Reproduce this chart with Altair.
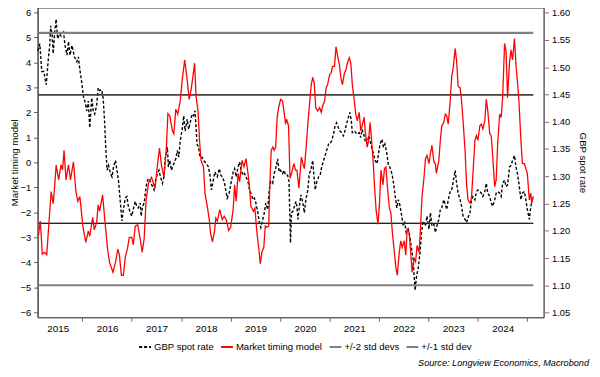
import altair as alt
import pandas as pd

# ---- Market timing model (left axis), decimal years ----
model_year = [2015.11, 2015.15, 2015.19, 2015.24, 2015.28, 2015.32, 2015.37, 2015.41, 2015.44, 2015.47,
              2015.52, 2015.57, 2015.60, 2015.63, 2015.67, 2015.72, 2015.76, 2015.82, 2015.87, 2015.91,
              2015.95, 2016.01, 2016.07, 2016.12, 2016.15, 2016.21, 2016.24, 2016.29, 2016.32, 2016.35,
              2016.41, 2016.45, 2016.51, 2016.55, 2016.62, 2016.67, 2016.72, 2016.75, 2016.79, 2016.83,
              2016.87, 2016.91, 2016.95, 2017.00, 2017.03, 2017.07, 2017.12, 2017.17, 2017.21, 2017.25,
              2017.29, 2017.34, 2017.40, 2017.47, 2017.52, 2017.56, 2017.60, 2017.65, 2017.70, 2017.73,
              2017.77, 2017.82, 2017.85, 2017.89, 2017.93, 2017.98, 2018.02, 2018.07, 2018.12, 2018.16,
              2018.20, 2018.24, 2018.27, 2018.30, 2018.34, 2018.37, 2018.40, 2018.45, 2018.48, 2018.53,
              2018.57, 2018.59, 2018.63, 2018.67, 2018.70, 2018.73, 2018.78, 2018.83, 2018.87, 2018.91,
              2018.96, 2019.00, 2019.05, 2019.08, 2019.11, 2019.15, 2019.18, 2019.23, 2019.27, 2019.31,
              2019.35, 2019.38, 2019.41, 2019.46, 2019.49, 2019.53, 2019.57, 2019.60, 2019.63, 2019.67,
              2019.70, 2019.73, 2019.77, 2019.79, 2019.82, 2019.85, 2019.88, 2019.91, 2019.94, 2019.97,
              2020.01, 2020.05, 2020.09, 2020.11, 2020.13, 2020.17, 2020.20, 2020.23, 2020.28, 2020.31,
              2020.34, 2020.38, 2020.43, 2020.46, 2020.49, 2020.53, 2020.56, 2020.60, 2020.63, 2020.66,
              2020.69, 2020.72, 2020.76, 2020.80, 2020.83, 2020.86, 2020.90, 2020.93, 2020.96, 2021.00,
              2021.03, 2021.06, 2021.10, 2021.13, 2021.16, 2021.20, 2021.23, 2021.26, 2021.30, 2021.33,
              2021.36, 2021.40, 2021.43, 2021.46, 2021.50, 2021.53, 2021.56, 2021.60, 2021.63, 2021.66,
              2021.70, 2021.72, 2021.76, 2021.79, 2021.82, 2021.84, 2021.88, 2021.91, 2021.94, 2021.98,
              2022.01, 2022.04, 2022.08, 2022.11, 2022.14, 2022.17, 2022.21, 2022.24, 2022.27, 2022.31,
              2022.34, 2022.37, 2022.41, 2022.44, 2022.47, 2022.51, 2022.54, 2022.57, 2022.61, 2022.64,
              2022.67, 2022.71, 2022.74, 2022.77, 2022.81, 2022.84, 2022.87, 2022.91, 2022.94, 2022.97,
              2023.01, 2023.04, 2023.07, 2023.11, 2023.14, 2023.16, 2023.21, 2023.24, 2023.27, 2023.31,
              2023.34, 2023.37, 2023.40, 2023.44, 2023.47, 2023.50, 2023.54, 2023.57, 2023.60, 2023.64,
              2023.67, 2023.70, 2023.74, 2023.77, 2023.80, 2023.84, 2023.87, 2023.90, 2023.94, 2023.97,
              2024.00, 2024.04, 2024.07, 2024.10, 2024.14, 2024.17, 2024.20, 2024.24, 2024.27, 2024.30,
              2024.34, 2024.37, 2024.40, 2024.44, 2024.47, 2024.50, 2024.54, 2024.57, 2024.60, 2024.64,
              2024.67, 2024.70, 2024.74, 2024.77, 2024.80, 2024.83, 2024.87, 2024.90, 2024.94, 2024.97,
              2025.00, 2025.04, 2025.07, 2025.09, 2025.12]
model_val = [-2.95, -2.35, -3.67, -3.60, -3.70, -2.55, -1.17, -1.65, -0.97, -0.11,
             -0.70, -0.10, -0.30, 0.48, -0.70, -0.10, -0.70, 0.02, -1.17, -1.56,
             -1.37, -2.55, -3.20, -2.75, -2.95, -2.20, -2.70, -2.40, -1.70, -1.95,
             -1.30, -2.20, -3.47, -4.00, -4.40, -4.00, -3.47, -3.72, -4.52, -4.52,
             -3.78, -3.47, -3.00, -3.00, -3.30, -2.55, -2.50, -3.06, -3.60, -3.06,
             -1.50, -0.80, -0.60, -1.05, -0.08, 0.57, -0.10, -0.60, 0.60, 1.95,
             1.86, 1.27, 1.14, 2.13, 1.93, 2.46, 3.31, 4.10, 3.31, 2.52,
             2.90, 3.50, 3.97, 2.65, 2.06, 0.88, 0.08, -0.18, -1.23, -1.80,
             -2.35, -2.80, -3.18, -2.80, -2.23, -2.35, -1.89, -2.29, -2.16, -2.29,
             -2.73, -2.60, -1.89, -0.90, -1.56, -0.44, -0.77, 0.08, -0.18, 0.15,
             -0.44, -0.97, -1.76, -1.96, -1.83, -2.80, -3.47, -4.06, -3.60, -3.40,
             -2.55, -2.60, -2.55, -0.97, 0.48, 0.61, 0.48, 0.61, 1.80, 2.19,
             2.52, 2.46, 1.86, 1.53, 1.73, 1.47, -0.64, -0.44, -0.05, -0.31,
             -0.31, -1.03, 0.21, -0.05, -0.25, 0.68, 1.53, 2.46, 3.11, 3.40,
             3.18, 2.19, 2.06, 2.19, 2.00, 2.26, 2.46, 2.98, 3.11, 3.50,
             3.57, 3.84, 3.84, 4.63, 4.30, 3.90, 3.37, 3.11, 3.57, 3.70,
             3.97, 4.19, 3.97, 3.11, 2.46, 1.93, 1.66, 2.00, 1.27, 1.47,
             1.80, 1.27, 0.61, 0.88, 1.60, 1.14, 0.08, -0.97, -1.89, -2.48,
             -1.63, -0.31, -0.90, -0.25, -0.18, -0.97, -1.83, -2.03, -2.80, -3.60,
             -4.20, -4.52, -3.60, -3.14, -3.40, -3.14, -3.72, -2.68, -2.80, -3.60,
             -4.40, -3.85, -3.98, -3.33, -3.60, -2.60, -1.37, -0.60, 0.15, 0.28,
             -0.05, 0.35, 0.68, 0.02, -0.05, -0.44, 0.08, 0.88, 1.47, 1.60,
             1.93, 1.86, 1.53, 2.46, 3.44, 3.77, 4.56, 4.04, 3.05, 2.98,
             2.46, 1.67, 0.48, -0.84, -1.50, -1.63, -1.43, -0.44, 0.88, 1.07,
             0.88, 1.47, 1.53, 1.34, 1.67, 2.52, 2.06, 1.14, 1.07, 0.21,
             -0.97, -0.70, 0.74, 1.93, 1.80, 2.59, 4.76, 4.43, 2.59, 4.04,
             4.50, 4.10, 4.96, 3.90, 3.24, 2.46, 0.88, -0.05, -0.05, -0.25,
             -0.44, -1.50, -1.23, -1.63, -1.37]

# ---- GBP spot rate (right axis), decimal years ----
gbp_year = [2015.10, 2015.14, 2015.18, 2015.22, 2015.27, 2015.31, 2015.34, 2015.36, 2015.39, 2015.41,
            2015.44, 2015.47, 2015.50, 2015.54, 2015.57, 2015.62, 2015.65, 2015.69, 2015.72, 2015.75,
            2015.79, 2015.84, 2015.89, 2015.92, 2015.95, 2015.99, 2016.02, 2016.05, 2016.09, 2016.12,
            2016.15, 2016.19, 2016.22, 2016.25, 2016.29, 2016.32, 2016.35, 2016.39, 2016.42, 2016.45,
            2016.47, 2016.50, 2016.53, 2016.57, 2016.60, 2016.63, 2016.67, 2016.70, 2016.73, 2016.77,
            2016.80, 2016.83, 2016.87, 2016.90, 2016.93, 2016.97, 2017.00, 2017.03, 2017.07, 2017.10,
            2017.13, 2017.17, 2017.19, 2017.22, 2017.25, 2017.29, 2017.32, 2017.35, 2017.39, 2017.42,
            2017.45, 2017.48, 2017.52, 2017.55, 2017.58, 2017.62, 2017.65, 2017.68, 2017.72, 2017.74,
            2017.77, 2017.80, 2017.85, 2017.89, 2017.92, 2017.95, 2017.98, 2018.02, 2018.05, 2018.08,
            2018.12, 2018.15, 2018.18, 2018.22, 2018.25, 2018.28, 2018.32, 2018.35, 2018.38, 2018.42,
            2018.45, 2018.48, 2018.51, 2018.55, 2018.58, 2018.61, 2018.65, 2018.68, 2018.73, 2018.77,
            2018.80, 2018.83, 2018.87, 2018.90, 2018.93, 2018.97, 2019.00, 2019.05, 2019.08, 2019.11,
            2019.15, 2019.18, 2019.21, 2019.25, 2019.28, 2019.31, 2019.35, 2019.38, 2019.41, 2019.45,
            2019.48, 2019.51, 2019.55, 2019.58, 2019.61, 2019.65, 2019.68, 2019.71, 2019.75, 2019.78,
            2019.81, 2019.85, 2019.88, 2019.91, 2019.95, 2019.98, 2020.01, 2020.05, 2020.08, 2020.11,
            2020.15, 2020.18, 2020.21, 2020.23, 2020.26, 2020.29, 2020.32, 2020.34, 2020.36, 2020.39,
            2020.42, 2020.46, 2020.49, 2020.52, 2020.56, 2020.59, 2020.62, 2020.66, 2020.68, 2020.71,
            2020.74, 2020.78, 2020.81, 2020.84, 2020.88, 2020.91, 2020.94, 2020.98, 2021.01, 2021.04,
            2021.08, 2021.11, 2021.14, 2021.18, 2021.21, 2021.24, 2021.28, 2021.31, 2021.34, 2021.38,
            2021.41, 2021.44, 2021.46, 2021.50, 2021.53, 2021.56, 2021.60, 2021.63, 2021.66, 2021.70,
            2021.72, 2021.76, 2021.79, 2021.82, 2021.86, 2021.89, 2021.92, 2021.96, 2021.99, 2022.02,
            2022.06, 2022.09, 2022.12, 2022.16, 2022.19, 2022.22, 2022.26, 2022.29, 2022.32, 2022.36,
            2022.39, 2022.42, 2022.46, 2022.49, 2022.52, 2022.55, 2022.59, 2022.62, 2022.65, 2022.69,
            2022.71, 2022.73, 2022.76, 2022.79, 2022.83, 2022.86, 2022.89, 2022.94, 2022.97, 2023.01,
            2023.04, 2023.07, 2023.11, 2023.14, 2023.17, 2023.21, 2023.24, 2023.27, 2023.31, 2023.34,
            2023.37, 2023.40, 2023.44, 2023.47, 2023.50, 2023.54, 2023.57, 2023.60, 2023.64, 2023.67,
            2023.70, 2023.74, 2023.77, 2023.80, 2023.84, 2023.87, 2023.90, 2023.94, 2023.97, 2024.00,
            2024.04, 2024.07, 2024.10, 2024.14, 2024.17, 2024.20, 2024.24, 2024.27, 2024.30, 2024.34,
            2024.37, 2024.40, 2024.44, 2024.47, 2024.50, 2024.54, 2024.57, 2024.60, 2024.64, 2024.67,
            2024.70, 2024.74, 2024.77, 2024.80, 2024.83, 2024.87, 2024.90, 2024.94, 2024.97, 2025.00,
            2025.04, 2025.07, 2025.10, 2025.12]
gbp_val = [1.530, 1.543, 1.492, 1.492, 1.468, 1.513, 1.540, 1.576, 1.558, 1.525,
           1.564, 1.588, 1.552, 1.561, 1.557, 1.564, 1.540, 1.522, 1.547, 1.522,
           1.540, 1.519, 1.510, 1.519, 1.495, 1.471, 1.447, 1.438, 1.420, 1.438,
           1.389, 1.444, 1.420, 1.414, 1.431, 1.462, 1.457, 1.459, 1.444, 1.401,
           1.359, 1.311, 1.320, 1.305, 1.299, 1.317, 1.329, 1.311, 1.293, 1.251,
           1.218, 1.239, 1.260, 1.263, 1.245, 1.233, 1.227, 1.239, 1.254, 1.245,
           1.242, 1.251, 1.227, 1.245, 1.251, 1.281, 1.293, 1.296, 1.287, 1.281,
           1.275, 1.293, 1.305, 1.311, 1.299, 1.287, 1.299, 1.335, 1.353, 1.317,
           1.329, 1.311, 1.323, 1.332, 1.347, 1.335, 1.365, 1.386, 1.411, 1.383,
           1.405, 1.386, 1.398, 1.414, 1.411, 1.420, 1.359, 1.353, 1.335, 1.335,
           1.329, 1.326, 1.323, 1.317, 1.302, 1.275, 1.293, 1.308, 1.299, 1.314,
           1.302, 1.299, 1.290, 1.275, 1.260, 1.269, 1.284, 1.308, 1.314, 1.299,
           1.317, 1.326, 1.311, 1.302, 1.305, 1.299, 1.290, 1.275, 1.269, 1.257,
           1.260, 1.251, 1.233, 1.215, 1.206, 1.221, 1.233, 1.251, 1.239, 1.275,
           1.290, 1.287, 1.305, 1.314, 1.332, 1.308, 1.311, 1.305, 1.311, 1.302,
           1.302, 1.290, 1.178, 1.233, 1.236, 1.245, 1.254, 1.245, 1.221, 1.245,
           1.266, 1.251, 1.233, 1.257, 1.275, 1.305, 1.311, 1.329, 1.305, 1.275,
           1.290, 1.299, 1.302, 1.317, 1.329, 1.338, 1.347, 1.359, 1.359, 1.365,
           1.377, 1.392, 1.398, 1.389, 1.383, 1.380, 1.374, 1.383, 1.395, 1.408,
           1.417, 1.402, 1.380, 1.383, 1.380, 1.377, 1.380, 1.371, 1.386, 1.374,
           1.365, 1.359, 1.374, 1.365, 1.350, 1.341, 1.329, 1.323, 1.341, 1.359,
           1.368, 1.353, 1.359, 1.341, 1.320, 1.317, 1.305, 1.290, 1.269, 1.242,
           1.257, 1.248, 1.227, 1.209, 1.215, 1.197, 1.203, 1.191, 1.173, 1.148,
           1.118, 1.091, 1.118, 1.130, 1.160, 1.197, 1.218, 1.209, 1.227, 1.203,
           1.233, 1.209, 1.212, 1.197, 1.209, 1.221, 1.239, 1.242, 1.257, 1.248,
           1.239, 1.257, 1.272, 1.275, 1.290, 1.311, 1.287, 1.269, 1.257, 1.245,
           1.227, 1.221, 1.215, 1.224, 1.233, 1.257, 1.263, 1.257, 1.272, 1.275,
           1.272, 1.269, 1.263, 1.272, 1.287, 1.269, 1.263, 1.251, 1.245, 1.257,
           1.269, 1.272, 1.269, 1.263, 1.287, 1.293, 1.281, 1.284, 1.317, 1.320,
           1.329, 1.338, 1.317, 1.305, 1.287, 1.257, 1.269, 1.272, 1.257, 1.239,
           1.221, 1.245, 1.257, 1.263]

# ---- standard deviation bands (left axis) ----
std_series = ["+/-2 std devs", "+/-2 std devs", "+/-1 std dev", "+/-1 std dev"]
std_vals = [5.18, -4.92, 2.70, -2.44]
band_start = model_year[0]
band_end = model_year[-1]

series_order = ["GBP spot rate", "Market timing model", "+/-2 std devs", "+/-1 std dev"]
series_colors = ["#000000", "#ff0000", "#808080", "#808080"]
series_dash = [[3, 2], [1, 0], [1, 0], [1, 0]]

year_ticks = list(range(2016, 2026))
left_ticks = list(range(-6, 7))
right_ticks = [round(1.05 + 0.05 * i, 2) for i in range(12)]

model_df = pd.DataFrame({"year": model_year, "value": model_val, "series": "Market timing model"})
gbp_df = pd.DataFrame({"year": gbp_year, "value": gbp_val, "series": "GBP spot rate"})
std_df = pd.DataFrame({"series": std_series, "value": std_vals,
                       "start": band_start, "end": band_end})
std1_df = std_df[std_df["series"] == "+/-1 std dev"]
std2_df = std_df[std_df["series"] == "+/-2 std devs"]

FONT = "Liberation Sans"

x_scale = alt.Scale(domain=[2015.095, 2025.33], nice=False, zero=False)
x_axis = alt.Axis(values=year_ticks, labelExpr="'' + (datum.value - 1)", labelOffset=-25,
                  tickSize=4, labelPadding=2, labelFontSize=10, labelColor="#000",
                  domainColor="#666", tickColor="#666", labelFlush=False,
                  labelOverlap=False, labelBound=False, grid=False, title=None)

left_scale = alt.Scale(domain=[-6.2, 6.2], nice=False, zero=False)
left_axis = alt.Axis(values=left_ticks, tickSize=4, labelPadding=3, labelFontSize=9.5,
                     labelColor="#000", domainColor="#555", tickColor="#555", grid=False,
                     title="Market timing model", titleFontSize=9.8, titleFontWeight="normal",
                     titleColor="#000", titlePadding=1)
right_scale = alt.Scale(domain=[1.0415, 1.6095], nice=False, zero=False)
right_axis = alt.Axis(orient="right", values=right_ticks, format=".2f", tickSize=5,
                      labelPadding=3, labelFontSize=9.5, labelColor="#000",
                      domainColor="#777", tickColor="#777", grid=False,
                      title="GBP spot rate", titleFontSize=9.8, titleFontWeight="normal",
                      titleColor="#000", titlePadding=8)

legend = alt.Legend(title=None, orient="none", direction="horizontal", legendX=102, legendY=337,
                    symbolType="stroke", symbolSize=144, symbolStrokeWidth=2,
                    labelFontSize=9.7, labelFont=FONT, labelColor="#000",
                    labelOffset=2, columnPadding=3)
color_enc = alt.Color("series:N", scale=alt.Scale(domain=series_order, range=series_colors),
                      legend=legend)
dash_enc = alt.StrokeDash("series:N", scale=alt.Scale(domain=series_order, range=series_dash),
                          legend=legend)

std2_layer = alt.Chart(std2_df).mark_rule(strokeWidth=2.2).encode(
    x=alt.X("start:Q", scale=x_scale, axis=x_axis),
    x2="end:Q",
    y=alt.Y("value:Q", scale=left_scale, axis=left_axis),
    color=color_enc, strokeDash=dash_enc)

std1_layer = alt.Chart(std1_df).mark_rule(strokeWidth=1.3).encode(
    x=alt.X("start:Q", scale=x_scale, axis=x_axis),
    x2="end:Q",
    y=alt.Y("value:Q", scale=left_scale, axis=left_axis),
    color=color_enc, strokeDash=dash_enc)

std1_dark = alt.Chart(std1_df).mark_rule(strokeWidth=1.3, color="#222222").encode(
    x=alt.X("start:Q", scale=x_scale, axis=x_axis),
    x2="end:Q",
    y=alt.Y("value:Q", scale=left_scale, axis=left_axis))

model_layer = alt.Chart(model_df).mark_line(strokeWidth=1.3).encode(
    x=alt.X("year:Q", scale=x_scale, axis=x_axis),
    y=alt.Y("value:Q", scale=left_scale, axis=left_axis),
    color=color_enc, strokeDash=dash_enc)

gbp_layer = alt.Chart(gbp_df).mark_line(strokeWidth=1.4).encode(
    x=alt.X("year:Q", scale=x_scale, axis=x_axis),
    y=alt.Y("value:Q", scale=right_scale, axis=right_axis),
    color=color_enc, strokeDash=dash_enc)

source_layer = alt.Chart(pd.DataFrame({"t": ["Source: Longview Economics, Macrobond"]})).mark_text(
    align="right", baseline="middle", fontStyle="italic", fontSize=9.3, font=FONT, color="#000"
).encode(text="t:N", x=alt.value(559), y=alt.value(360))

left_group = alt.layer(std2_layer, std1_layer, std1_dark, model_layer)
chart = alt.layer(gbp_layer, left_group, source_layer).resolve_scale(y="independent").properties(
    width=513, height=314,
    autosize=alt.AutoSizeParams(type="none"),
    padding={"left": 30, "top": -3, "right": 49, "bottom": 50},
).configure(font=FONT).configure_view(stroke="#222", strokeWidth=1)

chart.save("out.html", embed_options={"renderer": "svg", "actions": False})
